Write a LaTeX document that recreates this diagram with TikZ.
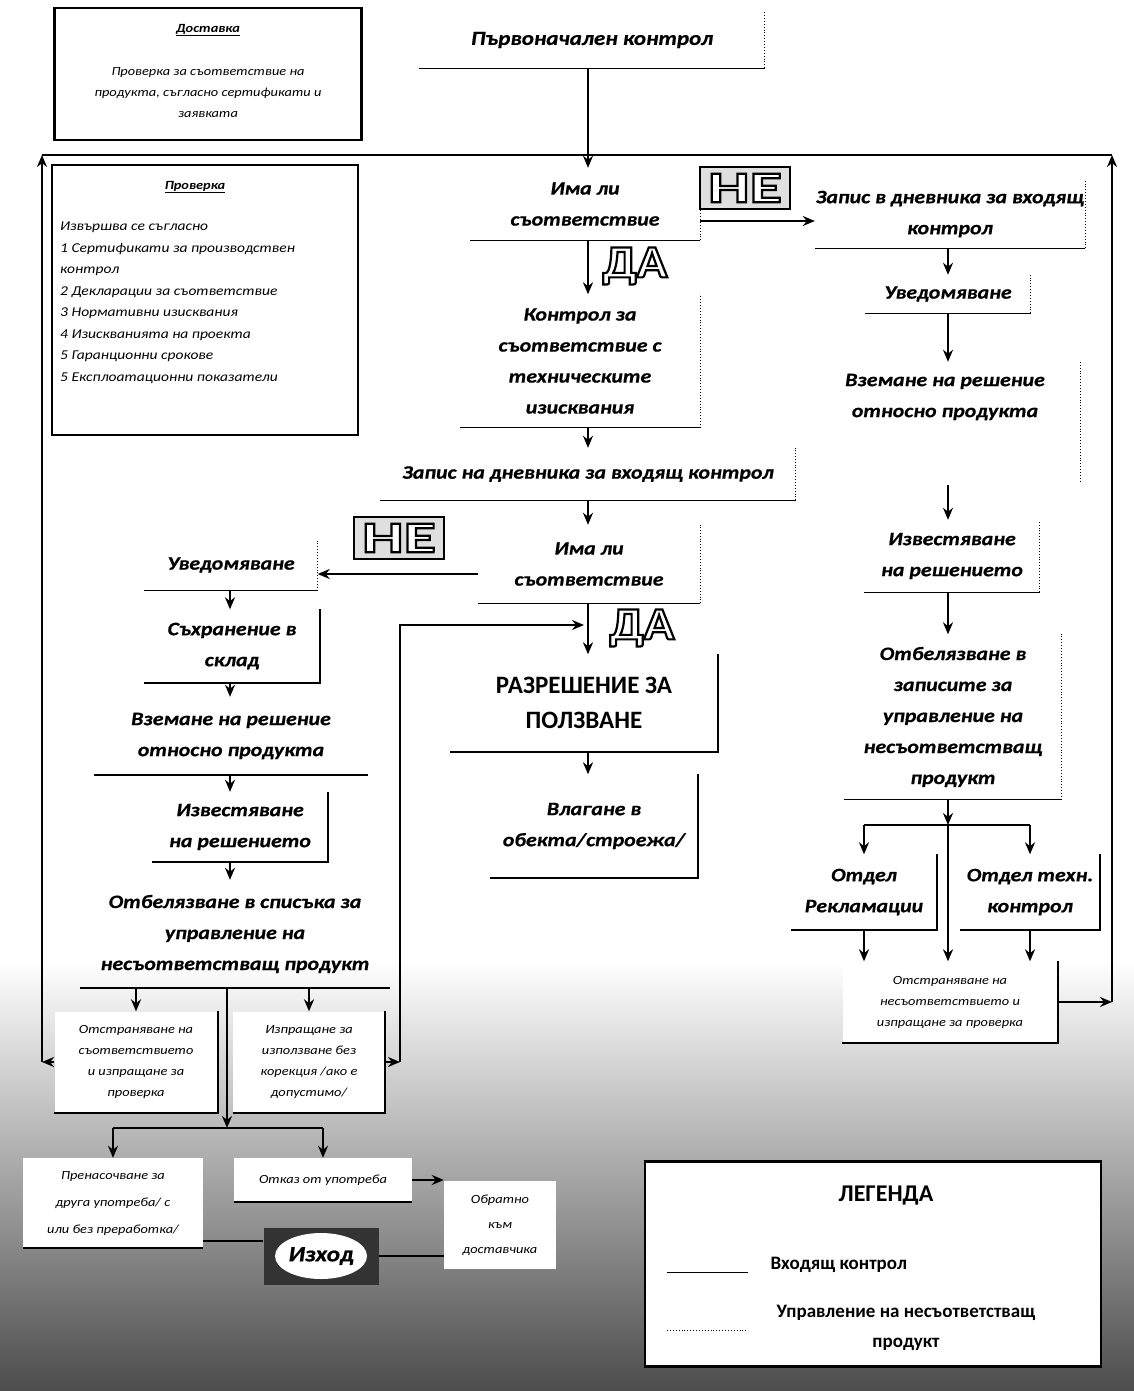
\documentclass[tikz,border=0pt]{standalone}
\usepackage{fontspec}
\setmainfont{Carlito}
\newfontfamily\widefont{Carlito}[FakeStretch=1.15]
\newfontfamily\heavyfont{Carlito}[FakeStretch=1.15, FakeBold=0.6]
\newfontfamily\nofamily{Carlito}[FakeStretch=1.5]
\newfontfamily\yesfamily{Carlito}[FakeStretch=1.1]
\usetikzlibrary{arrows.meta, calc}

\newcommand\stagefont{\heavyfont\fontsize{19}{31}\selectfont\bfseries\itshape}
\newcommand\notefont{\widefont\fontsize{12.5}{21}\selectfont\itshape}
% hollow letters: white fill, black outline
\newcommand\hollow[1]{\special{pdf:literal direct 1 1 1 rg 0 0 0 RG 2 Tr 2.2 w}#1\special{pdf:literal direct 0 Tr 0 0 0 rg 0 0 0 RG 1 w}}

\begin{document}
\begin{tikzpicture}[x=1pt, y=-1pt,
  stage/.style={font=\stagefont, align=center, inner sep=0pt},
  note/.style={font=\notefont, align=center, inner sep=0pt},
  box/.style 2 args={minimum width=#1pt, minimum height=#2pt},
  plate/.style={fill=white},
  thinrule/.style={line width=0.9pt},
  dotrule/.style={line width=0.9pt, dotted},
  heavyrule/.style={line width=2.2pt},
  arr/.style={-{Stealth[length=12pt, width=10pt]}, line width=2.4pt},
  link/.style={line width=2.4pt},
  badge/.style={draw, line width=1.6pt, fill=gray!25, box={90}{42}, inner sep=0pt,
    font=\nofamily\fontsize{44}{44}\selectfont\bfseries},
  yesmark/.style={inner sep=0pt, font=\yesfamily\fontsize{46}{46}\selectfont\bfseries},
  panel/.style={draw, line width=2.4pt},
  exitbox/.style={box={115}{57}, fill=black!80, inner sep=0pt,
    font=\heavyfont\fontsize{22}{22}\selectfont\bfseries\itshape,
    path picture={\fill[white] (path picture bounding box.center) ellipse [x radius=46pt, y radius=23pt];}},
]

% background of the scan
\fill[white] (0,0) rectangle (1134,1391);
\shade[top color=white, bottom color=black!70] (0,960) rectangle (1134,1391);
\useasboundingbox (0,0) rectangle (1134,1391);

% Доставка / Проверка
\node[panel, box={307}{132}] (deliv) at (208,74) {};
\node[note, font={\notefont\bfseries}] (delivhead) at (208,30) {\underline{Доставка}};
\node[note] (delivtext) at (208,93) {Проверка за съответствие на\\продукта, съгласно сертификати и\\заявката};

\node[panel, box={306}{270}] (check) at (205,300) {};
\node[note, font={\notefont\bfseries}] (checkhead) at (195,187) {\underline{Проверка}};
\node[note, align=left, anchor=north west, font={\widefont\fontsize{13.5}{21.5}\selectfont\itshape}] (checklist) at (60,222) {Извършва се съгласно\\1 Сертификати за производствен\\контрол\\2 Декларации за съответствие\\3 Нормативни изисквания\\4 Изискванията на проекта\\5 Гаранционни срокове\\5 Експлоатационни показатели};

% входящ контрол
\node[stage, box={345}{56}, font={\stagefont\fontsize{20}{31}\selectfont}] (init) at (592,40) {Първоначален контрол};
\node[stage, box={230}{72}] (q1) at (585,204) {Има ли\\съответствие};
\node[stage, box={240}{133}] (tech) at (580,361) {Контрол за\\съответствие с\\техническите\\изисквания};
\node[stage, box={415}{52}] (log1) at (588,474) {Запис на дневника за входящ контрол};
\node[stage, box={222}{78}] (q2) at (589,564) {Има ли\\съответствие};
\node[stage, box={268}{97}, font={\fontsize{25}{35}\selectfont\bfseries}] (perm) at (584,703) {РАЗРЕШЕНИЕ ЗА\\ПОЛЗВАНЕ};
\node[stage, box={207}{103}] (use) at (594,826) {Влагане в\\обекта/строежа/};

% несъответствие при първата проверка
\node[stage, box={270}{68}] (log2) at (950,214) {Запис в дневника за входящ\\контрол};
\node[stage, box={165}{38}] (notif2) at (948,294) {Уведомяване};
\node[stage, box={270}{70}] (dec2) at (945,397) {Вземане на решение\\относно продукта};
\node[stage, box={175}{72}] (inf2) at (952,556) {Известяване\\на решението};
\node[stage, box={217}{165}] (mark2) at (953,717) {Отбелязване в\\записите за\\управление на\\несъответстващ\\продукт};
\node[stage, box={145}{75}] (rekl) at (864,892) {Отдел\\Рекламации};
\node[stage, box={140}{75}] (tech2) at (1030,892) {Отдел техн.\\контрол};
\node[note, plate, box={215}{81}] (fix2) at (950,1002) {Отстраняване на\\несъответствието и\\изпращане за проверка};

% несъответствие при втората проверка
\node[stage, box={173}{51}] (notif1) at (231,565) {Уведомяване};
\node[stage, box={175}{73}] (store) at (232,646) {Съхранение в\\склад};
\node[stage, box={273}{78}] (dec1) at (231,736) {Вземане на решение\\относно продукта};
\node[stage, box={176}{70}] (inf1) at (240,827) {Известяване\\на решението};
\node[stage, box={310}{108}] (mark1) at (235,934) {Отбелязване в списъка за\\управление на\\несъответстващ продукт};
\node[note, plate, box={163}{101}] (fix1) at (136,1062) {Отстраняване на\\съответствието\\и изпращане за\\проверка};
\node[note, plate, box={152}{101}] (pass1) at (309,1062) {Изпращане за\\използване без\\корекция /ако е\\допустимо/};
\node[note, plate, box={180}{90}, font={\notefont\fontsize{12.5}{27}\selectfont}] (redir) at (113,1203) {Пренасочване за\\друга употреба/ с\\или без преработка/};
\node[note, plate, box={178}{44}] (refuse) at (323,1180) {Отказ от употреба};
\node[note, plate, box={112}{88}, font={\notefont\fontsize{12.5}{25}\selectfont}] (back) at (500,1225) {Обратно\\към\\доставчика};
\node[exitbox] (exit) at (321,1256) {Изход};

% НЕ / ДА
\node[badge] (no1) at (745,188) {\hollow{НЕ}};
\node[yesmark] (yes1) at (635,266) {\hollow{ДА}};
\node[badge] (no2) at (399,538) {\hollow{НЕ}};
\node[yesmark] (yes2) at (642,628) {\hollow{ДА}};

% рамки
\foreach \n in {init,q1,tech,log1,q2,log2,notif2,inf2,mark2,notif1}{
  \draw[thinrule] (\n.south west) -- (\n.south east);
  \draw[dotrule] (\n.south east) -- (\n.north east);
}
\foreach \n in {store,inf1,perm,use,rekl,tech2,fix1,pass1,fix2}
  \draw[heavyrule] (\n.south west) -- (\n.south east) -- (\n.north east);
\foreach \n in {dec1,mark1,redir,refuse}
  \draw[heavyrule] (\n.south west) -- (\n.south east);
\draw[dotrule] (dec2.north east) -- ++(0,120);

% опорни точки
\coordinate (colC) at (588,0);
\coordinate (colR) at (948,0);
\coordinate (colL) at (230,0);
\coordinate (loopL) at (42,155);
\coordinate (loopR) at (1112,155);
\coordinate (q1no) at ([yshift=-17pt]q1.east);
\coordinate (q2no) at ([yshift=-10pt]q2.west);
\coordinate (splitR) at (948,825);
\coordinate (splitL) at (227,1128);
\coordinate (retTop) at (400,625);
\coordinate (exitin) at ([yshift=15pt]exit.west);
\coordinate (dec2b) at (948,485);

% главен поток
\draw[arr] (init.south -| colC) -- (q1.north -| colC);
\draw[arr] (q1.south -| colC) -- (tech.north -| colC);
\draw[arr] (tech.south -| colC) -- (log1.north -| colC);
\draw[arr] (log1.south -| colC) -- (q2.north -| colC);
\draw[arr] (q2.south -| colC) -- (perm.north -| colC);
\draw[arr] (perm.south -| colC) -- (use.north -| colC);

% НЕ вдясно
\draw[arr] (q1no) -- (q1no -| log2.west);
\draw[arr] (log2.south -| colR) -- (notif2.north -| colR);
\draw[arr] (notif2.south -| colR) -- (dec2.north -| colR);
\draw[arr] (dec2b) -- (inf2.north -| colR);
\draw[arr] (inf2.south -| colR) -- (mark2.north -| colR);
\draw[arr] (mark2.south -| colR) -- (splitR);
\draw[link] (splitR -| rekl.north) -- (splitR -| tech2.north);
\draw[arr] (splitR -| rekl.north) -- (rekl.north);
\draw[arr] (splitR -| tech2.north) -- (tech2.north);
\draw[arr] (splitR) -- (fix2.north -| splitR);
\draw[arr] (rekl.south) -- (rekl.south |- fix2.north);
\draw[arr] (tech2.south) -- (tech2.south |- fix2.north);
\draw[arr] (fix2.east) -- (fix2.east -| loopR);
\draw[arr] (fix2.east -| loopR) -- (loopR);
\draw[link] (loopR) -- (loopL);

% НЕ вляво
\draw[arr] (q2no) -- (q2no -| notif1.east);
\draw[arr] (notif1.south -| colL) -- (store.north -| colL);
\draw[arr] (store.south -| colL) -- (dec1.north -| colL);
\draw[arr] (dec1.south -| colL) -- (inf1.north -| colL);
\draw[arr] (inf1.south -| colL) -- (mark1.north -| colL);
\draw[arr] (mark1.south -| fix1.north) -- (fix1.north);
\draw[arr] (mark1.south -| pass1.north) -- (pass1.north);
\draw[arr] (mark1.south -| splitL) -- (splitL);
\draw[link] (splitL -| redir.north) -- (splitL -| refuse.north);
\draw[arr] (splitL -| redir.north) -- (redir.north);
\draw[arr] (splitL -| refuse.north) -- (refuse.north);
\draw[arr] (fix1.west) -- (fix1.west -| loopL);
\draw[arr] (fix1.west -| loopL) -- (loopL);
\draw[arr] (pass1.east) -- (pass1.east -| retTop);
\draw[arr] (pass1.east -| retTop) -- (retTop) -- ([xshift=-4pt]retTop -| colC);

% изход
\draw[arr] (refuse.east) -- (refuse.east -| back.west);
\draw[link] (redir.east |- exitin) -- (exitin);
\draw[link] (exit.east) -- (exit.east -| back.west);

% легенда
\node[panel, plate, box={456}{205}] (legend) at (873,1264) {};
\node[font=\fontsize{24}{24}\selectfont\bfseries] (leghead) at (886,1196) {ЛЕГЕНДА};
\coordinate (legA) at (667,1272);
\coordinate (legB) at (748,1272);
\coordinate (legC) at (667,1330);
\coordinate (legD) at (748,1330);
\draw[thinrule] (legA) -- (legB);
\draw[dotrule] (legC) -- (legD);
\node[font=\fontsize{19}{30}\selectfont\bfseries, anchor=west] (legin) at (767,1265) {Входящ контрол};
\node[font=\fontsize{19}{30}\selectfont\bfseries, align=center] (legnc) at (906,1328) {Управление на несъответстващ\\продукт};

\end{tikzpicture}
\end{document}
